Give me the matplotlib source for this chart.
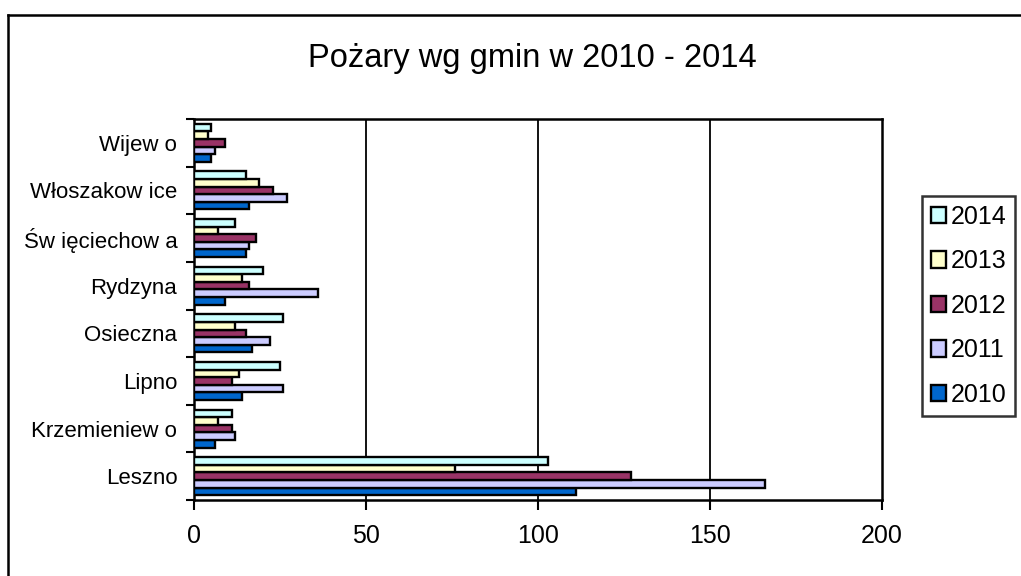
import numpy as np
import matplotlib
matplotlib.use("Agg")
import matplotlib.pyplot as plt
from matplotlib.lines import Line2D

plt.rcParams['font.family'] = ['Liberation Sans', 'DejaVu Sans']

# gminy, od dolu do gory (jak na wykresie)
gminy = ['Leszno', 'Krzemieniew o', 'Lipno', 'Osieczna', 'Rydzyna',
         'Św ięciechow a', 'Włoszakow ice', 'Wijew o']
lata = ['2010', '2011', '2012', '2013', '2014']
v2010 = [111, 6, 14, 17, 9, 15, 16, 5]
v2011 = [166, 12, 26, 22, 36, 16, 27, 6]
v2012 = [127, 11, 11, 15, 16, 18, 23, 9]
v2013 = [76, 7, 13, 12, 14, 7, 19, 4]
v2014 = [103, 11, 25, 26, 20, 12, 15, 5]
kolory = ['#0066CC', '#CCCCFF', '#993366', '#FFFFCC', '#CCFFFF']

serie = [v2010, v2011, v2012, v2013, v2014]

fig = plt.figure(figsize=(10.21, 5.76), dpi=100)
ax = fig.add_axes([194 / 1021, 76 / 576, 688 / 1021, 381 / 576])

y = np.arange(len(gminy))
h = 0.16
for i, (vals, rok, kol) in enumerate(zip(serie, lata, kolory)):
    ax.barh(y + (i - 2) * h, vals, height=h, color=kol, edgecolor='black',
            linewidth=1.7, label=rok, zorder=3)

ax.set_xlim(0, 200)
ax.set_ylim(-0.5, len(gminy) - 0.5)
ax.set_xticks([0, 50, 100, 150, 200])
ax.set_yticks(y)
ax.set_yticklabels(gminy)
ax.set_yticks(np.arange(-0.5, len(gminy)), minor=True)
ax.tick_params(axis='y', which='major', length=0, pad=12, labelsize=16)
ax.tick_params(axis='y', which='minor', length=6, width=1.5, direction='out')
ax.tick_params(axis='x', length=7, width=1.5, direction='out', pad=10, labelsize=18)

for x in [50, 100, 150]:
    ax.axvline(x, color='black', linewidth=1.3, zorder=1)
for s in ax.spines.values():
    s.set_linewidth(1.8)
    s.set_color('black')

fig.text(532 / 1021, 1 - 58 / 576, 'Pożary wg gmin w 2010 - 2014',
         ha='center', va='center', fontsize=23.5)

handles, labels = ax.get_legend_handles_labels()
leg = fig.legend(handles[::-1], labels[::-1], loc='upper left',
                 bbox_to_anchor=(922 / 1021, 1 - 196 / 576),
                 fontsize=18, frameon=True, fancybox=False,
                 handlelength=0.62, handleheight=0.62, handletextpad=0.18,
                 labelspacing=0.82, borderpad=0.35, borderaxespad=0)
leg.get_frame().set_edgecolor('black')
leg.get_frame().set_linewidth(1.8)

# ramka wykresu
fig.add_artist(Line2D([8 / 1021, 8 / 1021], [0, 1 - 15 / 576],
                      color='black', linewidth=1.8, transform=fig.transFigure))
fig.add_artist(Line2D([8 / 1021, 1], [1 - 15 / 576, 1 - 15 / 576],
                      color='black', linewidth=1.8, transform=fig.transFigure))

fig.savefig('out.png', dpi=100)
